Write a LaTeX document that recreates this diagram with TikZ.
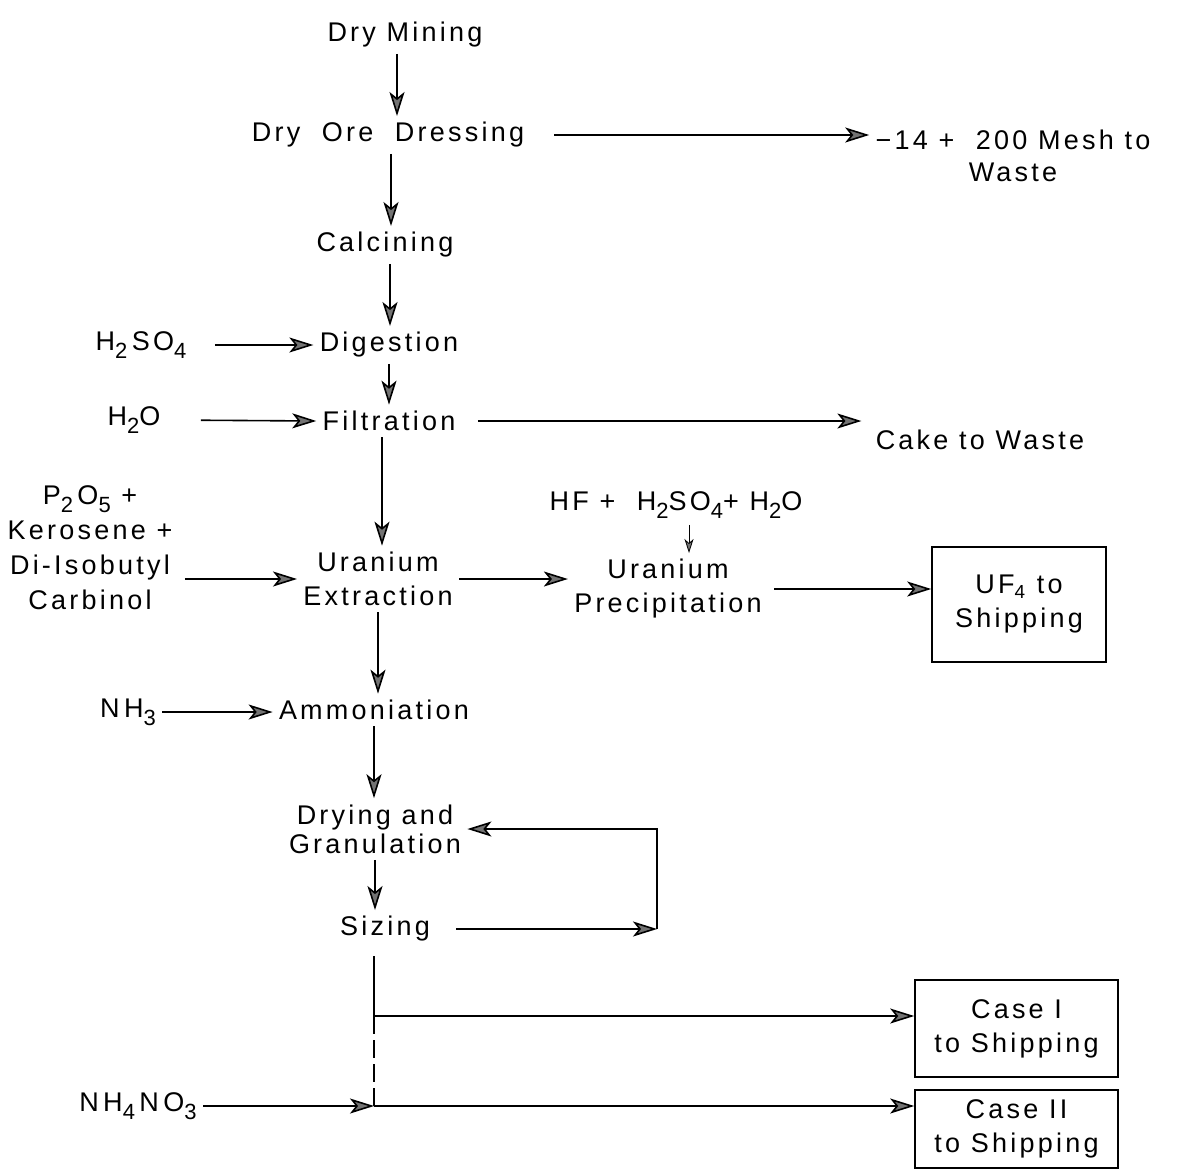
\documentclass[tikz,border=0pt]{standalone}
\usepackage{fontspec}
\setmainfont{Liberation Sans}[LetterSpace=12]
\usepackage{tikz}
\usetikzlibrary{positioning,calc,arrows.meta}

\newcommand{\chemsub}[1]{\raisebox{-0.55ex}{\fontsize{11}{11}\selectfont #1}}

\tikzset{
  stage/.style={inner sep=3pt, align=center, font=\fontsize{13.5}{17}\selectfont},
  box/.style={stage, draw, thick},
  flow/.style={thick, -{Stealth[length=12pt, width=7.5pt, inset=3pt, fill=black!55]}},
  feed/.style={thin, -{Stealth[length=7pt, width=4.5pt, inset=2pt, fill=black!55]}},
}

\begin{document}
\begin{tikzpicture}[x=0.5pt, y=-0.5pt]
  \useasboundingbox (0,0) rectangle (1177,1173);

  % Main process line
  \node[stage] (mining) at (405,35) {Dry Mining};
  \node[stage] (dressing) at (388,135) {Dry\ \ Ore\ \ Dressing};
  \node[stage] (calcining) at (385,245) {Calcining};
  \node[stage] (digestion) at (389,345) {Digestion};
  \node[stage] (filtration) at (389,421) {Filtration};
  \node[stage] (extraction) at (378,579) {Uranium\\Extraction};
  \node[stage] (ammoniation) at (374,710) {Ammoniation};
  \node[stage, font=\fontsize{13.5}{14.5}\selectfont] (drying) at (375,829) {Drying and\\Granulation};
  \node[stage] (sizing) at (385,929) {Sizing};

  % Feeds on the left
  \node[stage] (acid) at (141,345) {H\chemsub{2}\,SO\chemsub{4}};
  \node[stage] (water) at (134,420) {H\chemsub{2}O};
  \node[stage, font=\fontsize{13.5}{17.5}\selectfont] (solvent) at (90,548) {P\chemsub{2}\,O\chemsub{5} +\\Kerosene +\\Di-Isobutyl\\Carbinol};
  \node[stage] (ammonia) at (128,712) {N\,H\chemsub{3}};
  \node[stage] (nitrate) at (138,1106) {N\,H\chemsub{4}\,N\,O\chemsub{3}};

  % Products and waste on the right
  \node[stage, font=\fontsize{13.5}{16}\selectfont] (mesh) at (1013,156) {−14 + \ 200 Mesh to\\Waste};
  \node[stage] (cake) at (980,440) {Cake to Waste};
  \node[stage] (hfmix) at (676,505) {HF +\ \ H\chemsub{2}SO\chemsub{4}+ H\chemsub{2}O};
  \node[stage] (precipitation) at (668,589) {Uranium\\Precipitation};
  \node[box, minimum width=87pt, minimum height=57.5pt] (uf4) at (1019,604.5) {UF\textsubscript{4} to\\Shipping};
  \node[box, minimum width=101.5pt, minimum height=48.5pt] (case1) at (1016.5,1028.5) {Case I\\to Shipping};
  \node[box, minimum width=101.5pt, minimum height=39pt] (case2) at (1016.5,1129) {Case II\\to Shipping};

  \coordinate (loop) at (657,929);
  \coordinate (split) at (374,1016);
  \coordinate (join) at (374,1106);

  % Down the main line
  \draw[flow] ([xshift=-4pt]mining.south) -- ([xshift=-4pt]mining.south |- dressing.north);
  \draw[flow] ([xshift=1.5pt]dressing.south) -- ([xshift=1.5pt]dressing.south |- calcining.north);
  \draw[flow] ([xshift=2.5pt]calcining.south) -- ([xshift=2.5pt]calcining.south |- digestion.north);
  \draw[flow] (digestion.south) -- (digestion.south |- filtration.north);
  \draw[flow] ([xshift=-3.5pt]filtration.south) -- ([xshift=-3.5pt]filtration.south |- extraction.north);
  \draw[flow] (extraction.south) -- (extraction.south |- ammoniation.north);
  \draw[flow] (ammoniation.south) -- (ammoniation.south |- drying.north);
  \draw[flow] (drying.south) -- (drying.south |- sizing.north);

  % Side streams
  \draw[flow, shorten <=12pt] (dressing.east) -- (dressing.east -| mesh.west);
  \draw[flow, shorten <=11pt] (acid.east) -- (digestion.west);
  \draw[flow, shorten <=17pt] (water.east) -- (filtration.west);
  \draw[flow, shorten <=8pt, shorten >=4pt] (filtration.east) -- (filtration.east -| cake.west);
  \draw[flow, shorten <=3pt] (solvent.east |- extraction) -- (extraction.west);
  \draw[flow] (extraction.east) -- (extraction.east -| precipitation.west);
  \draw[feed] ([xshift=6.5pt]hfmix.south) -- ([xshift=6.5pt]hfmix.south |- precipitation.north);
  \draw[flow, shorten <=3pt] (precipitation.east) -- (precipitation.east -| uf4.west);
  \draw[flow] (ammonia.east) -- (ammonia.east -| ammoniation.west);

  % Recycle from sizing
  \draw[flow, shorten <=10pt] (sizing.east) -- (loop);
  \draw[flow] (loop) |- (drying.east);

  % Shipping cases
  \draw[thick, shorten <=4pt] (sizing.south -| split) -- (split);
  \draw[flow] (split) -- (split -| case1.west);
  \draw[thick, dash pattern=on 9pt off 3pt] (split) -- (join);
  \draw[flow] (nitrate) -- (join);
  \draw[flow] (join) -- (join -| case2.west);
\end{tikzpicture}
\end{document}
